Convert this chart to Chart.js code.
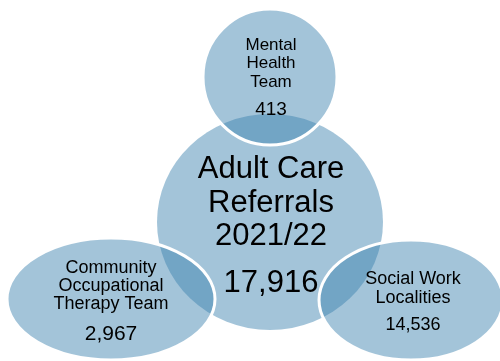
<!DOCTYPE html>
<html>
<head>
<meta charset="utf-8">
<script src="https://cdn.jsdelivr.net/npm/chart.js@4/dist/chart.umd.min.js"></script>
<style>
  body { margin: 0; background: #fff; }
  #wrap { width: 500px; height: 361px; }
</style>
</head>
<body>
<div id="wrap"><canvas id="venn"></canvas></div>
<script>
// Referral groups and their counts
const groups = ['Adult Care Referrals 2021/22', 'Mental Health Team', 'Community Occupational Therapy Team', 'Social Work Localities'];
const labelLines = [
  ['Adult Care', 'Referrals', '2021/22'],
  ['Mental', 'Health', 'Team'],
  ['Community', 'Occupational', 'Therapy Team'],
  ['Social Work', 'Localities']
];
const referrals = [17916, 413, 2967, 14536];

// Layout of the shapes, in canvas units
const centres = [{ x: 270, y: 222 }, { x: 270, y: 77 }, { x: 111, y: 299 }, { x: 411, y: 300 }];
const radii = [{ rx: 113, ry: 108 }, { rx: 67, ry: 68 }, { rx: 104, ry: 61 }, { rx: 92, ry: 60 }];

// Text layout: font sizes and baseline offsets from the shape centre
const textLayout = [
  { label: 31, value: 31, lines: [-44, -10, 23], valueLine: 70, dx: 1 },
  { label: 17, value: 19, lines: [-27, -9, 10], valueLine: 38, dx: 1 },
  { label: 18, value: 21, lines: [-26, -8, 10], valueLine: 41, dx: 0 },
  { label: 18, value: 18, lines: [-16, 3], valueLine: 30, dx: 2 }
];

const fill = 'rgba(59,130,174,0.47)';

const vennPlugin = {
  id: 'venn',
  afterDatasetsDraw(chart) {
    const ctx = chart.ctx;
    const xs = chart.scales.x;
    const ys = chart.scales.y;
    const meta = chart.getDatasetMeta(0);
    ctx.save();
    meta.data.forEach((pt, i) => {
      const rx = xs.getPixelForValue(centres[i].x + radii[i].rx) - pt.x;
      const ry = Math.abs(ys.getPixelForValue(centres[i].y + radii[i].ry) - pt.y);
      ctx.beginPath();
      ctx.ellipse(pt.x, pt.y, rx, ry, 0, 0, Math.PI * 2);
      ctx.fillStyle = fill;
      ctx.fill();
      if (i > 0) {
        ctx.lineWidth = 3;
        ctx.strokeStyle = '#ffffff';
        ctx.stroke();
      }
    });

    ctx.fillStyle = '#000';
    ctx.textAlign = 'center';
    ctx.textBaseline = 'alphabetic';
    meta.data.forEach((pt, i) => {
      const t = textLayout[i];
      const x = pt.x + t.dx;
      ctx.font = t.label + 'px "Liberation Sans", Arial, sans-serif';
      labelLines[i].forEach((line, j) => {
        ctx.fillText(line, x, ys.getPixelForValue(centres[i].y + t.lines[j]));
      });
      ctx.font = t.value + 'px "Liberation Sans", Arial, sans-serif';
      ctx.fillText(referrals[i].toLocaleString('en-US'), x, ys.getPixelForValue(centres[i].y + t.valueLine));
    });
    ctx.restore();
  }
};

new Chart(document.getElementById('venn'), {
  type: 'bubble',
  data: {
    labels: groups,
    datasets: [{
      label: 'Referrals',
      data: centres.map((c) => ({ x: c.x, y: c.y, r: 0 })),
      backgroundColor: 'rgba(0,0,0,0)',
      borderWidth: 0,
      hoverRadius: 0
    }]
  },
  options: {
    responsive: true,
    maintainAspectRatio: false,
    animation: false,
    layout: { padding: 0, autoPadding: false },
    plugins: { legend: { display: false }, tooltip: { enabled: false } },
    events: [],
    scales: {
      x: { type: 'linear', min: 0, max: 500, display: false },
      y: { type: 'linear', min: 0, max: 361, reverse: true, display: false }
    }
  },
  plugins: [vennPlugin]
});
</script>
</body>
</html>
